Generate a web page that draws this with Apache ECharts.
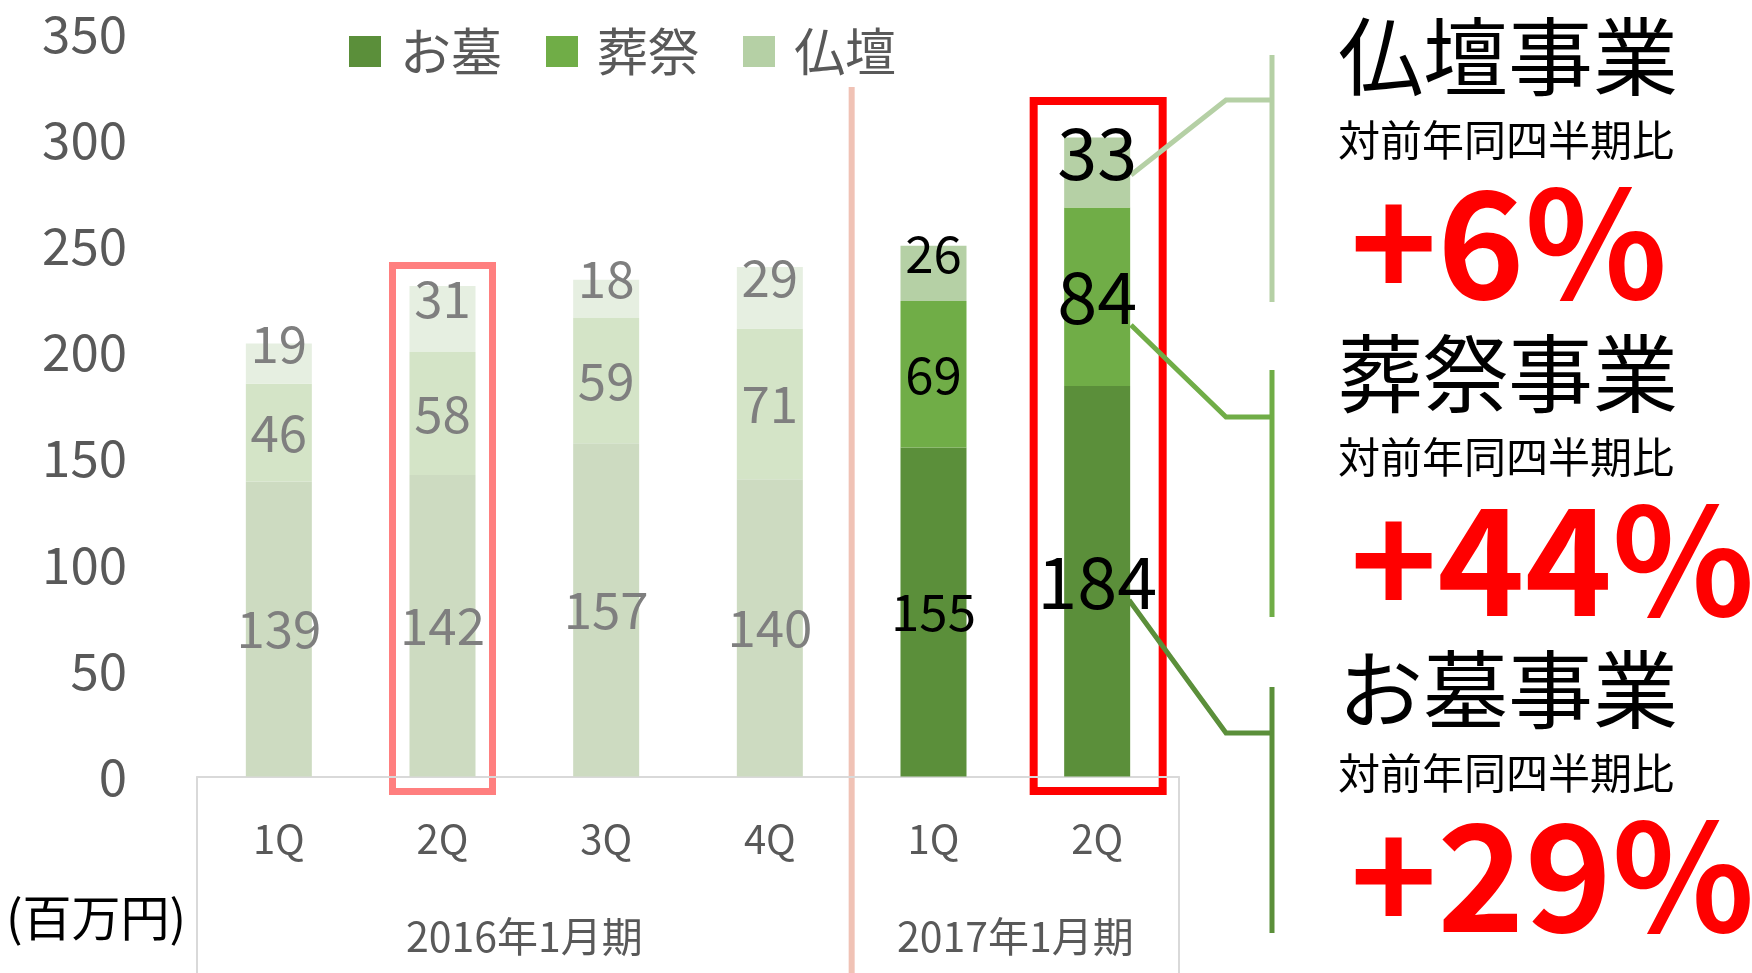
<!DOCTYPE html>
<html>
<head>
<meta charset="utf-8">
<title>事業別売上</title>
<script src="https://cdn.jsdelivr.net/npm/echarts@6/dist/echarts.min.js"></script>
<style>
  html, body { margin: 0; padding: 0; background: #fff; }
  #main { width: 1752px; height: 973px; }
</style>
</head>
<body>
<div id="main"></div>
<script>
// data (百万円)
const quarters = ['1Q', '2Q', '3Q', '4Q', '1Q', '2Q'];
const periods = ['2016年1月期', '2017年1月期'];
const seriesNames = ['お墓', '葬祭', '仏壇'];
const ohaka = [139, 142, 157, 140, 155, 184];
const sousai = [46, 58, 59, 71, 69, 84];
const butsudan = [19, 31, 18, 29, 26, 33];
const yTicks = [0, 50, 100, 150, 200, 250, 300, 350];
const growthTitles = ['仏壇事業', '葬祭事業', 'お墓事業'];
const growthValues = ['+6%', '+44%', '+29%'];

const FONT = "'Noto Sans CJK JP', 'Noto Sans', sans-serif";
const strong = ['#5B8F3A', '#70AD47', '#B5D0A5'];
const pale = ['#CDDBC1', '#D4E4C7', '#E6EFE1'];

var chartDom = document.getElementById('main');
var myChart = echarts.init(chartDom);

const allValues = [ohaka, sousai, butsudan];

function labelFor(i) {
  if (i < 4) return { color: '#7F7F7F', fontSize: 51 };
  if (i === 4) return { color: '#000000', fontSize: 51 };
  return { color: '#000000', fontSize: 72 };
}

var option = {
  animation: false,
  textStyle: { fontFamily: FONT },
  grid: { left: 197, right: 573, top: 33.5, bottom: 196.5 },
  legend: {
    data: seriesNames,
    left: 344,
    top: 21,
    icon: 'rect',
    itemWidth: 32,
    itemHeight: 31,
    itemGap: 44,
    textStyle: { fontSize: 51, color: '#595959', fontFamily: FONT, padding: [0, 0, 0, 14] }
  },
  xAxis: {
    type: 'category',
    data: quarters,
    axisLine: { lineStyle: { color: '#D9D9D9', width: 2 } },
    axisTick: { show: false },
    axisLabel: { fontSize: 40, color: '#595959', margin: 42, fontFamily: FONT }
  },
  yAxis: {
    type: 'value',
    min: yTicks[0],
    max: yTicks[yTicks.length - 1],
    interval: yTicks[1] - yTicks[0],
    splitLine: { show: false },
    axisLine: { show: false },
    axisTick: { show: false },
    axisLabel: { fontSize: 51, color: '#595959', margin: 70, fontFamily: FONT }
  },
  series: seriesNames.map(function (name, s) {
    return {
      name: name,
      type: 'bar',
      stack: 'total',
      barWidth: 66,
      itemStyle: { color: strong[s] },
      label: {
        show: true,
        position: 'inside',
        offset: s === 2 ? [0, -20] : [0, 0],
        fontFamily: FONT
      },
      data: allValues[s].map(function (v, i) {
        return {
          value: v,
          itemStyle: { color: i < 4 ? pale[s] : strong[s] },
          label: labelFor(i)
        };
      })
    };
  })
};

myChart.setOption(option);

// annotations placed from the axis scale
const px = function (i) { return myChart.convertToPixel({ xAxisIndex: 0 }, i); };
const py = function (v) { return myChart.convertToPixel({ yAxisIndex: 0 }, v); };
const band = px(1) - px(0);
const y0 = py(0);
const H = 973;

const graphics = [];

// frame of the category axis
[0, 6].forEach(function (b) {
  const x = px(0) - band / 2 + b * band;
  graphics.push({ type: 'line', shape: { x1: x, y1: y0, x2: x, y2: H }, style: { stroke: '#D9D9D9', lineWidth: 2 } });
});
// period separator
const sepX = px(3) + band / 2;
graphics.push({ type: 'line', shape: { x1: sepX, y1: 87, x2: sepX, y2: H }, style: { stroke: '#F0C2B5', lineWidth: 6 } });

// period labels
graphics.push({ type: 'text', x: (px(0) + px(3)) / 2, y: 936,
  style: { text: periods[0], fill: '#595959', font: '41px ' + FONT, align: 'center', verticalAlign: 'middle' } });
graphics.push({ type: 'text', x: (px(4) + px(5)) / 2, y: 936,
  style: { text: periods[1], fill: '#595959', font: '41px ' + FONT, align: 'center', verticalAlign: 'middle' } });

// unit
graphics.push({ type: 'text', x: 6, y: 917,
  style: { text: '(百万円)', fill: '#000', font: '49px ' + FONT, align: 'left', verticalAlign: 'middle' } });

// highlight boxes
graphics.push({ type: 'rect', shape: { x: px(1) - 50, y: 265.5, width: 100, height: 526 },
  style: { fill: 'none', stroke: '#FF7F7F', lineWidth: 7 } });
graphics.push({ type: 'rect', shape: { x: px(5) - 63.5, y: 101, width: 129, height: 690 },
  style: { fill: 'none', stroke: '#FF0000', lineWidth: 8 } });

// connectors and brackets
const connectors = [
  { color: strong[2], pts: [[1131, 175], [1226, 100], [1272, 100]], br: [55, 302] },
  { color: strong[1], pts: [[1131, 325], [1226, 417], [1272, 417]], br: [370, 617] },
  { color: strong[0], pts: [[1129, 600], [1226, 733], [1272, 733]], br: [687, 933] }
];
connectors.forEach(function (c) {
  graphics.push({ type: 'polyline', shape: { points: c.pts }, style: { stroke: c.color, lineWidth: 5, fill: 'none' } });
  graphics.push({ type: 'line', shape: { x1: 1272, y1: c.br[0], x2: 1272, y2: c.br[1] }, style: { stroke: c.color, lineWidth: 5 } });
});

// growth texts
const blockY = [57, 374, 690];
growthTitles.forEach(function (t, k) {
  const y = blockY[k];
  graphics.push({ type: 'text', x: 1338, y: y,
    style: { text: t, fill: '#000', font: '85px ' + FONT, align: 'left', verticalAlign: 'middle' } });
  graphics.push({ type: 'text', x: 1338, y: y + 83,
    style: { text: '対前年同四半期比', fill: '#000', font: '42px ' + FONT, align: 'left', verticalAlign: 'middle' } });
  graphics.push({ type: 'text', x: 1350, y: y + 186,
    style: { text: growthValues[k], fill: '#FF0000', font: 'bold 148px ' + FONT, align: 'left', verticalAlign: 'middle' } });
});

myChart.setOption({ graphic: graphics });
</script>
</body>
</html>
